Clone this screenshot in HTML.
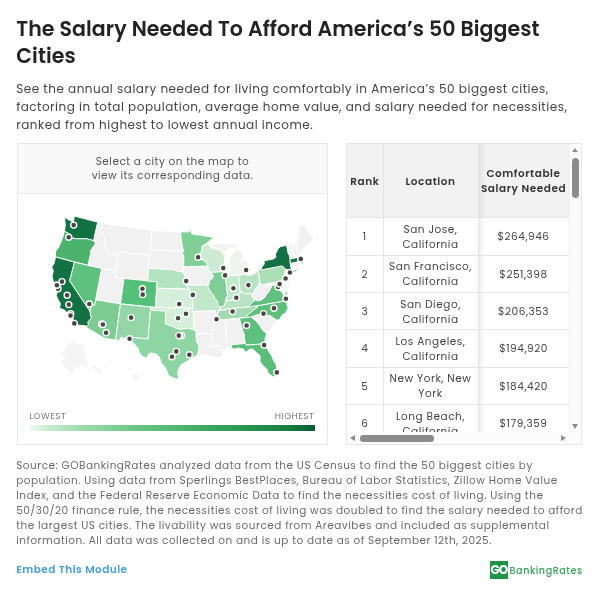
<!DOCTYPE html>
<html><head><meta charset="utf-8">
<style>
*{margin:0;padding:0;box-sizing:border-box}
html,body{width:600px;height:591px;background:#fff;overflow:hidden}
body{font-family:"Poppins","Liberation Sans",sans-serif;position:relative;color:#333}
.abs{position:absolute;white-space:nowrap}
h1{position:absolute;left:16.3px;top:14.8px;font-size:20.5px;line-height:27.3px;font-weight:600;color:#222;letter-spacing:0.08px;white-space:nowrap}
.desc{left:16.2px;top:79.5px;font-size:12px;line-height:18.1px;color:#444;letter-spacing:0.505px}
.mapbox{position:absolute;left:17px;top:143px;width:311px;height:302px;border:1px solid #e8e8e8;background:#fff}
.maphead{position:absolute;left:0;top:0;width:309px;height:50px;background:#f9f9f9;border-bottom:1px solid #e8e8e8}
.mh{position:absolute;left:0;width:309px;text-align:center;font-size:10.5px;line-height:14.5px;color:#555;white-space:nowrap;letter-spacing:0.48px}
.map{position:absolute;left:-1px;top:49px}
.lg{position:absolute;font-size:9px;line-height:12px;color:#7c7c7c;top:265.9px;letter-spacing:0.45px}
.bar{position:absolute;left:12px;top:281px;width:284.5px;height:6px;background:linear-gradient(90deg,#f1f8f2 0%,#c5e9cd 7%,#98d9a8 20%,#6fc889 35%,#52b872 50%,#36a45e 65%,#238f4c 80%,#167a40 92%,#0c5c33 100%)}
.tbl{position:absolute;left:346px;top:143px;width:236px;height:302px;border:1px solid #e6e6e6;background:#fff;overflow:hidden}
.th{position:absolute;left:0;top:0;width:222px;height:73.5px;background:#f2f2f2}
.vl{position:absolute;top:0;width:1px;height:288px;background:#e3e3e3}
.hl{position:absolute;left:0;width:222px;height:1px;background:#e6e6e6}
.ht{position:absolute;font-size:10.5px;font-weight:600;color:#333;line-height:15px;text-align:center;white-space:nowrap;letter-spacing:0.55px}
.c{position:absolute;font-size:10.5px;color:#444;line-height:15px;text-align:center;white-space:nowrap;letter-spacing:0.53px}
.c1{left:0;width:35.5px}.c2{left:35.5px;width:96px}.c3{left:131px;width:91px}
.shadow{position:absolute;left:130.5px;top:0;width:8px;height:288px;background:linear-gradient(90deg,rgba(0,0,0,.07),rgba(0,0,0,0))}
.vs{position:absolute;left:222px;top:0;width:12px;height:288px;background:#fbfbfb;border-left:1px solid #f0f0f0}
.hs{position:absolute;left:0;top:288px;width:234px;height:12px;background:#fcfcfc}
.thumbv{position:absolute;left:225px;top:13.7px;width:7px;height:40px;border-radius:3.5px;background:#8c8c8c}
.thumbh{position:absolute;left:13px;top:291px;width:74px;height:6.5px;border-radius:3.2px;background:#8c8c8c}
.tri{position:absolute;width:0;height:0}
.src{left:16.2px;top:457.8px;font-size:10.5px;line-height:15px;color:#6a6a6a;letter-spacing:0.49px}
.embed{left:16.3px;top:561.65px;font-size:10.5px;font-weight:600;color:#449ed7;letter-spacing:0.45px;line-height:15.75px}
.logo{position:absolute;left:490px;top:561px;width:18px;height:18px;background:#1f9447;color:#fff;font-size:12px;font-weight:700;line-height:18.5px;text-align:left;padding-left:0.6px;letter-spacing:-1.1px;overflow:visible;white-space:nowrap}
.logot{left:509.5px;top:563.5px;font-size:9.6px;color:#35a057;font-weight:500;letter-spacing:0.55px}
</style></head><body>
<h1>The Salary Needed To Afford America’s 50 Biggest<br>Cities</h1>
<div class="abs desc">See the annual salary needed for living comfortably in America’s 50 biggest cities,<br>factoring in total population, average home value, and salary needed for necessities,<br>ranked from highest to lowest annual income.</div>
<div class="mapbox">
<div class="maphead"><div class="mh" style="top:10.9px">Select a city on the map to</div><div class="mh" style="top:25.3px">view its corresponding data.</div></div>
<svg class="map" width="310" height="250" viewBox="0 0 310 250"><g stroke="#fff" stroke-width=".9" stroke-linejoin="round"><path d="M66.6,152.0L70.6,172.3L72.9,172.5L75.1,174.3L76.8,171.9L80.0,174.5L85.7,178.2L84.6,180.7L82.5,180.2L79.7,177.6L77.2,175.5L72.0,173.4L67.5,173.5L64.6,172.6L63.1,174.1L59.9,176.1L59.2,172.7L57.6,176.6L56.5,178.8L53.4,181.4L50.9,183.1L47.7,183.9L43.0,185.5L46.3,184.4L49.0,182.9L52.3,179.8L53.0,177.0L49.5,177.2L47.6,174.3L45.1,172.3L44.4,170.0L45.3,167.6L46.0,166.4L49.8,164.2L49.9,163.1L45.1,163.1L43.7,160.5L47.2,159.1L48.4,160.2L49.5,160.1L47.8,158.1L46.6,155.0L48.8,153.8L51.1,151.2L54.5,149.3L58.0,150.4L61.0,151.3L64.1,151.4Z" fill="#f5f5f5" stroke="none"/><path d="M115.9,179.9L120.7,181.7L122.5,184.2L117.7,188.1L115.3,184.3Z" fill="#f5f5f5" stroke="none"/><path d="M111.1,174.8L115.2,175.4L115.2,177.3L112.3,177.3Z" fill="#f5f5f5" stroke="none"/><path d="M101.5,171.0L105.1,172.9L102.7,172.9Z" fill="#f5f5f5" stroke="none"/><path d="M92.6,167.2L95.6,167.2L94.4,169.1Z" fill="#f5f5f5" stroke="none"/><path d="M48.4,24.4L51.3,26.6L54.8,28.3L56.1,30.0L57.4,23.1L80.8,29.2L77.2,45.0L77.1,47.7L68.3,45.6L66.8,45.7L61.3,45.8L58.1,45.6L54.7,44.7L51.3,43.4L51.7,40.5L50.1,39.7L47.3,38.2L48.1,34.2L48.4,31.6L47.7,26.8Z" fill="#137244"/><path d="M47.3,38.2L50.1,39.7L51.7,40.5L51.3,43.4L54.7,44.7L58.1,45.6L61.3,45.8L66.8,45.7L68.3,45.6L77.1,47.7L78.5,50.6L77.0,52.9L74.8,56.3L73.5,58.0L74.1,60.7L73.4,61.9L71.1,72.5L38.5,63.9L38.6,58.3L41.4,54.7L44.1,48.9L46.2,42.9Z" fill="#4bb36b"/><path d="M38.5,63.9L57.5,69.2L52.7,87.8L73.3,118.8L73.5,123.4L75.0,123.9L72.3,127.8L70.9,128.8L71.5,131.5L70.0,133.1L57.3,131.6L57.1,129.1L56.8,127.1L54.8,124.0L53.0,122.6L52.4,120.6L49.0,119.0L47.4,116.9L43.2,115.5L42.7,114.4L43.4,110.6L41.0,106.6L39.1,102.1L40.4,99.2L39.7,98.0L38.2,95.9L38.8,92.0L36.8,90.1L35.1,83.6L36.3,77.9L34.7,74.1L37.2,70.2Z" fill="#137244"/><path d="M57.5,69.2L84.8,75.4L77.8,111.9L74.1,112.3L73.3,118.8L52.7,87.8Z" fill="#5ec27e"/><path d="M80.8,29.2L84.9,30.0L83.5,36.3L84.4,39.6L85.7,41.5L88.0,45.8L88.6,46.9L87.1,52.4L89.5,56.8L90.8,58.0L93.3,61.0L95.6,60.8L99.2,61.4L101.1,62.0L98.6,77.8L71.1,72.5L71.1,72.5L73.4,61.9L74.1,60.7L73.5,58.0L74.8,56.3L77.0,52.9L78.5,50.6L77.1,47.7L77.2,45.0Z" fill="#f1f1f1"/><path d="M84.9,30.0L134.9,37.5L132.8,62.7L101.6,58.9L101.1,62.0L99.2,61.4L95.6,60.8L93.3,61.0L90.8,58.0L89.5,56.8L87.1,52.4L88.6,46.9L88.0,45.8L85.7,41.5L84.4,39.6L83.5,36.3L84.9,30.0Z" fill="#f1f1f1"/><path d="M101.6,58.9L132.8,62.7L130.6,88.1L97.6,84.1Z" fill="#f1f1f1"/><path d="M84.8,75.4L98.6,77.8L97.6,84.1L107.0,85.5L103.5,110.9L78.7,106.8Z" fill="#f1f1f1"/><path d="M107.0,85.5L140.1,88.8L138.5,114.4L103.5,110.9Z" fill="#55c079"/><path d="M78.7,106.8L103.5,110.9L98.5,146.9L87.7,145.3L69.2,134.3L70.0,133.1L71.5,131.5L70.9,128.8L72.3,127.8L75.0,123.9L73.5,123.4L73.3,118.8L74.1,112.3L77.8,111.9Z" fill="#7ccc93"/><path d="M103.5,110.9L133.7,114.1L133.5,117.3L131.1,146.0L112.0,144.3L112.3,145.7L103.4,144.6L103.0,147.5L98.5,146.9Z" fill="#95d6a8"/><path d="M134.9,37.5L163.7,38.9L164.1,45.2L165.1,51.5L166.4,58.2L133.3,56.7Z" fill="#f1f1f1"/><path d="M133.3,56.7L166.4,58.2L165.1,60.4L166.8,62.3L166.8,73.8L166.1,77.0L166.8,80.2L164.2,78.4L159.6,78.3L157.3,76.8L131.7,75.4Z" fill="#f1f1f1"/><path d="M131.7,75.4L157.3,76.8L159.6,78.3L164.2,78.4L166.8,80.2L168.4,84.6L169.3,87.8L169.6,92.3L172.2,96.2L139.7,95.2L140.1,88.8L130.6,88.1Z" fill="#b3e3c0"/><path d="M139.7,95.2L172.2,96.2L173.9,98.7L175.7,101.9L175.8,115.4L138.5,114.5Z" fill="#d5efdb"/><path d="M133.7,114.1L175.8,115.4L176.9,125.6L176.8,136.9L171.5,135.4L166.2,135.9L163.1,136.3L158.9,135.2L155.8,133.6L150.6,131.7L148.1,130.6L148.6,118.2L133.5,117.3Z" fill="#d5efdb"/><path d="M133.5,117.3L148.6,118.2L148.1,130.6L150.6,131.7L155.8,133.6L158.9,135.2L163.1,136.3L166.2,135.9L171.5,135.4L176.8,136.9L179.2,137.4L179.2,140.9L179.4,147.4L180.7,150.5L182.3,153.6L181.4,158.1L180.8,161.9L176.0,164.3L173.8,165.9L168.8,169.1L164.4,171.6L162.1,174.7L160.9,177.9L160.8,182.3L162.2,185.8L160.2,186.1L156.2,185.0L151.1,182.1L149.0,175.7L144.7,170.4L142.3,163.9L139.1,160.8L133.9,160.0L131.9,160.8L129.4,165.1L127.2,164.2L124.6,162.8L121.9,158.7L121.3,155.5L116.9,150.5L112.3,145.7L112.0,144.3L131.1,146.0Z" fill="#8dd5a2"/><path d="M163.7,38.9L172.4,38.9L172.4,36.5L173.9,37.0L174.8,40.8L178.2,41.6L183.3,42.1L190.2,43.4L196.7,44.3L192.2,48.3L185.9,52.8L185.0,53.4L185.2,57.5L182.8,60.2L183.6,64.0L183.3,65.6L186.9,67.3L190.3,70.7L190.8,73.2L166.8,73.8L166.8,62.3L165.1,60.4L166.4,58.2L165.1,51.5L164.1,45.2Z" fill="#80cf97"/><path d="M166.8,73.8L190.8,73.2L191.5,76.4L193.8,79.5L196.0,81.9L196.3,83.8L194.8,85.8L192.5,87.9L192.2,91.1L190.8,93.2L189.4,91.9L169.9,92.5L169.6,92.3L169.3,87.8L168.4,84.6L166.8,80.2L166.1,77.0Z" fill="#f1f1f1"/><path d="M169.9,92.5L189.4,91.9L190.8,93.2L193.0,97.5L194.7,100.6L197.2,102.7L197.4,104.9L200.6,108.6L201.4,112.4L203.2,114.2L203.2,116.8L201.7,117.5L200.8,120.8L197.5,121.0L198.4,117.7L175.8,118.6L175.8,115.4L175.7,101.9L173.9,98.7L172.2,96.2Z" fill="#c2e8cb"/><path d="M175.8,118.6L198.4,117.7L197.5,121.0L200.8,120.8L200.0,122.8L199.2,126.7L198.2,127.4L196.9,131.3L195.0,135.2L194.5,140.4L179.2,140.9L179.2,137.4L176.8,136.9L176.9,125.6Z" fill="#f1f1f1"/><path d="M179.2,140.9L194.5,140.4L194.4,143.6L195.6,146.7L192.6,151.3L192.6,153.3L202.9,152.7L203.8,155.8L204.5,157.7L204.0,158.4L205.7,159.5L205.3,162.1L207.7,163.8L204.3,163.4L201.1,164.9L196.6,164.5L192.1,162.8L188.2,162.7L183.7,161.4L180.8,161.9L181.4,158.1L182.3,153.6L180.7,150.5L179.4,147.4Z" fill="#f1f1f1"/><path d="M190.8,73.2L190.3,70.7L186.9,67.3L183.3,65.6L183.6,64.0L182.8,60.2L185.2,57.5L185.0,53.4L190.6,51.6L193.4,53.5L194.8,55.2L199.3,56.1L203.8,57.0L205.4,60.1L206.4,61.9L209.0,60.4L207.6,65.0L207.5,68.9L206.5,73.4L207.0,78.5L193.8,79.5L191.5,76.4Z" fill="#cdebd3"/><path d="M207.0,78.5L193.8,79.5L196.0,81.9L196.3,83.8L194.8,85.8L192.5,87.9L192.2,91.1L190.8,93.2L193.0,97.5L194.7,100.6L197.2,102.7L197.4,104.9L200.6,108.6L201.4,112.4L203.2,114.2L206.4,113.3L208.2,110.6L208.6,108.6L208.8,106.0L210.5,102.6L210.0,98.5L208.6,83.1L208.2,82.3Z" fill="#80cd96"/><path d="M208.6,83.1L212.1,82.8L221.5,82.2L223.3,98.7L222.7,100.7L220.8,101.6L218.8,106.3L215.9,107.3L213.5,107.5L210.5,107.8L208.8,106.0L210.5,102.6L210.0,98.5Z" fill="#c3e8cb"/><path d="M221.5,82.2L227.7,81.2L231.5,82.5L236.1,81.5L241.1,77.6L242.5,86.1L242.5,88.3L241.7,92.3L238.3,96.1L236.5,100.2L234.7,101.5L232.5,100.2L229.1,100.9L225.9,99.1L223.3,98.7Z" fill="#b6e3c1"/><path d="M212.1,82.8L221.5,82.2L227.7,81.2L229.1,79.3L229.3,77.3L231.4,75.1L231.5,72.5L230.5,68.8L229.7,66.3L227.8,66.2L224.1,69.6L226.2,64.8L225.7,60.4L220.7,56.6L218.8,56.2L217.8,58.8L215.7,60.4L213.0,64.5L212.2,69.7L214.2,75.9L213.2,79.9Z" fill="#eff2ef"/><path d="M193.4,53.5L199.3,50.4L205.4,50.5L212.5,51.1L216.8,50.3L218.8,52.0L220.9,51.4L222.2,54.5L218.8,55.8L215.1,54.7L210.9,57.0L208.7,57.9L206.4,61.9L205.4,60.1L203.8,57.0L199.3,56.1L194.8,55.2Z" fill="#f3f5f3"/><path d="M201.7,117.5L203.2,116.8L203.2,114.2L206.4,113.3L208.2,110.6L208.6,108.6L210.5,107.8L213.5,107.5L215.9,107.3L218.8,106.3L220.8,101.6L222.7,100.7L223.3,98.7L225.9,99.1L229.1,100.9L232.5,100.2L234.7,101.5L234.9,103.1L236.8,106.0L238.6,106.8L236.2,108.7L234.0,111.0L230.9,114.0L224.3,114.6L219.3,115.1L208.8,115.8L208.9,116.9L201.7,117.5Z" fill="#b9e4c3"/><path d="M201.7,117.5L208.9,116.9L208.8,115.8L219.3,115.1L224.3,114.6L230.9,114.0L240.9,112.6L240.1,114.6L236.9,117.0L232.7,120.2L230.4,122.4L229.0,124.5L222.4,125.3L209.0,126.6L198.2,127.4L199.2,126.7L200.0,122.8L200.8,120.8Z" fill="#a6dab3"/><path d="M209.0,126.6L198.2,127.4L196.9,131.3L195.0,135.2L194.5,140.4L194.4,143.6L195.6,146.7L192.6,151.3L192.6,153.3L202.9,152.7L203.8,155.8L204.5,157.7L210.4,156.0L209.2,146.5Z" fill="#f1f1f1"/><path d="M209.0,126.6L222.4,125.3L226.1,138.6L227.5,142.1L227.3,145.3L228.4,150.4L214.4,151.8L215.3,156.2L212.6,156.4L211.9,154.6L210.4,156.0L209.2,146.5Z" fill="#f1f1f1"/><path d="M222.4,125.3L229.0,124.5L235.2,123.7L235.4,125.0L238.9,127.7L242.8,132.3L246.2,137.6L249.7,140.7L248.4,144.4L247.8,149.7L245.0,151.4L243.9,151.1L229.4,152.2L228.4,150.4L227.3,145.3L227.5,142.1L226.1,138.6Z" fill="#5ec07e"/><path d="M214.4,151.8L228.4,150.4L229.4,152.2L243.9,151.1L245.0,151.4L247.8,149.7L249.3,153.9L251.7,158.7L254.7,162.7L255.7,165.8L259.0,171.6L259.8,174.7L260.2,179.1L259.2,183.1L256.3,183.9L255.0,183.1L251.0,179.9L249.9,176.3L247.3,174.1L244.5,170.7L242.9,167.7L243.2,163.8L242.0,161.4L239.6,159.9L236.3,156.4L232.9,155.9L229.4,158.9L227.1,158.2L226.9,156.3L221.8,155.0L215.3,156.2Z" fill="#5cbd7b"/><path d="M235.2,123.7L239.1,121.9L245.5,121.2L247.1,123.2L252.8,122.3L259.7,127.2L257.1,131.9L254.0,135.7L251.2,138.1L249.7,140.7L246.2,137.6L242.8,132.3L238.9,127.7L235.4,125.0Z" fill="#f1f1f1"/><path d="M229.0,124.5L235.2,123.7L239.1,121.9L245.5,121.2L247.1,123.2L252.8,122.3L259.7,127.2L263.0,126.3L264.4,122.7L266.7,121.0L269.1,119.5L269.7,117.4L271.1,115.5L270.2,112.4L269.7,107.6L240.9,112.6L240.1,114.6L236.9,117.0L232.7,120.2L230.4,122.4Z" fill="#5fc07e"/><path d="M230.9,114.0L240.9,112.6L269.7,107.6L268.7,105.5L267.1,105.2L266.5,102.1L264.1,98.0L261.9,97.1L261.0,95.3L261.0,94.0L258.5,92.5L257.4,92.1L254.4,92.0L253.9,94.7L252.5,97.6L250.9,99.9L248.8,102.2L247.2,105.0L244.0,106.9L241.6,107.9L238.6,106.8L236.2,108.7L234.0,111.0Z" fill="#62c180"/><path d="M269.0,98.6L270.9,97.6L269.9,101.3L268.7,104.2L268.0,101.1Z" fill="#62c180"/><path d="M242.5,86.1L243.5,91.9L248.4,91.0L249.0,94.3L251.0,92.3L254.1,90.5L256.6,90.6L257.4,92.1L254.4,92.0L253.9,94.7L252.5,97.6L250.9,99.9L248.8,102.2L247.2,105.0L244.0,106.9L241.6,107.9L238.6,106.8L236.8,106.0L234.9,103.1L234.7,101.5L236.5,100.2L238.3,96.1L241.7,92.3L242.5,88.3Z" fill="#f1f1f1"/><path d="M248.4,91.0L266.0,87.6L267.7,95.6L271.2,94.8L270.9,97.6L269.0,98.6L266.9,97.0L265.7,98.6L264.3,95.3L264.0,97.3L261.9,97.1L261.0,95.3L261.0,94.0L258.5,92.5L257.4,92.1L256.6,90.6L254.1,90.5L251.0,92.3L249.0,94.3Z" fill="#e8f5eb"/><path d="M266.0,87.6L266.7,86.7L267.7,86.7L267.3,88.1L267.5,89.4L269.3,91.9L271.2,94.8L267.7,95.6Z" fill="#f5f5f5"/><path d="M243.5,91.9L241.1,77.5L244.3,75.2L244.6,76.9L264.9,72.9L266.3,73.9L268.8,76.3L267.6,79.8L267.5,81.5L269.5,83.7L270.3,84.0L268.9,85.4L267.7,86.7L266.7,86.7L266.0,87.6Z" fill="#a9deb6"/><path d="M268.8,76.3L273.0,77.6L273.0,79.6L272.1,81.1L273.3,81.1L273.8,84.0L273.3,87.4L271.0,91.7L267.8,89.3L267.3,88.1L268.9,85.4L270.3,84.0L269.5,83.7L267.5,81.5L267.6,79.8Z" fill="#f5f5f5"/><path d="M244.6,76.9L244.3,75.2L247.5,70.5L246.5,68.4L251.1,66.9L255.7,66.3L259.0,64.3L258.4,61.2L261.3,55.4L263.6,53.6L269.5,52.2L270.3,55.3L271.4,60.9L272.1,61.0L273.2,66.0L273.3,70.6L274.4,75.3L274.1,77.3L273.3,78.8L273.0,79.6L273.0,77.6L268.8,76.3L266.3,73.9L264.9,72.9Z" fill="#137244"/><path d="M273.1,80.2L277.7,78.8L281.9,76.1L282.3,75.2L279.6,76.5L275.1,78.3Z" fill="#137244"/><path d="M269.5,52.2L277.5,50.1L276.3,54.4L275.8,59.8L277.0,65.2L273.2,66.0L272.1,61.0L271.4,60.9L270.3,55.3Z" fill="#f4f4f4"/><path d="M277.5,50.1L278.9,47.8L280.5,52.6L281.8,56.9L284.2,60.9L284.1,62.4L282.2,64.1L277.0,65.2L275.8,59.8L276.3,54.4Z" fill="#f4f4f4"/><path d="M278.9,47.8L280.0,48.0L281.2,43.2L281.1,38.0L283.0,32.5L287.5,31.8L289.7,33.0L292.2,41.3L293.9,41.5L297.1,45.1L294.4,48.6L290.5,51.1L287.0,55.5L285.6,57.2L284.2,60.9L281.8,56.9L280.5,52.6Z" fill="#f1f1f1"/><path d="M273.3,70.6L273.2,66.0L277.0,65.2L282.2,64.1L284.1,62.4L285.5,63.8L284.2,66.2L286.1,68.0L285.8,70.4L285.1,71.2L284.4,70.4L282.9,68.4L281.0,68.9Z" fill="#137244"/><path d="M281.0,68.9L282.9,68.4L284.4,70.4L285.1,71.2L283.8,71.9L281.9,73.3Z" fill="#f5f5f5"/><path d="M273.3,70.6L281.0,68.9L281.9,73.3L279.0,74.3L276.8,75.4L274.1,77.3L274.4,75.3Z" fill="#f5f5f5"/></g><g fill="#4a4446" stroke="#fff" stroke-width="1.4"><circle cx="272.9" cy="79.5" r="3"/><circle cx="53.7" cy="120.8" r="3"/><circle cx="208.1" cy="82.4" r="3"/><circle cx="172.3" cy="161.7" r="3"/><circle cx="84.6" cy="131.0" r="3"/><circle cx="268.6" cy="85.5" r="3"/><circle cx="155.0" cy="163.7" r="3"/><circle cx="57.3" cy="130.4" r="3"/><circle cx="164.6" cy="142.4" r="3"/><circle cx="247.1" cy="152.1" r="3"/><circle cx="159.3" cy="158.4" r="3"/><circle cx="41.0" cy="95.7" r="3"/><circle cx="231.4" cy="92.1" r="3"/><circle cx="246.5" cy="120.6" r="3"/><circle cx="216.4" cy="95.2" r="3"/><circle cx="39.2" cy="92.3" r="3"/><circle cx="56.7" cy="32.1" r="3"/><circle cx="125.4" cy="95.8" r="3"/><circle cx="161.1" cy="125.2" r="3"/><circle cx="215.6" cy="118.5" r="3"/><circle cx="261.1" cy="93.9" r="3"/><circle cx="112.6" cy="145.8" r="3"/><circle cx="72.3" cy="111.0" r="3"/><circle cx="283.8" cy="65.9" r="3"/><circle cx="229.1" cy="77.1" r="3"/><circle cx="51.7" cy="44.3" r="3"/><circle cx="219.3" cy="104.7" r="3"/><circle cx="199.5" cy="126.3" r="3"/><circle cx="262.6" cy="91.1" r="3"/><circle cx="206.2" cy="75.1" r="3"/><circle cx="114.1" cy="124.6" r="3"/><circle cx="89.1" cy="139.7" r="3"/><circle cx="50.1" cy="102.2" r="3"/><circle cx="45.0" cy="88.6" r="3"/><circle cx="85.9" cy="131.5" r="3"/><circle cx="229.6" cy="132.5" r="3"/><circle cx="175.8" cy="101.9" r="3"/><circle cx="125.7" cy="101.6" r="3"/><circle cx="169.2" cy="88.1" r="3"/><circle cx="257.0" cy="115.2" r="3"/><circle cx="259.8" cy="179.4" r="3"/><circle cx="268.9" cy="105.8" r="3"/><circle cx="53.5" cy="122.6" r="3"/><circle cx="39.9" cy="92.3" r="3"/><circle cx="181.1" cy="64.2" r="3"/><circle cx="51.8" cy="111.6" r="3"/><circle cx="168.9" cy="120.8" r="3"/><circle cx="162.2" cy="111.0" r="3"/><circle cx="163.0" cy="142.7" r="3"/><circle cx="161.8" cy="142.6" r="3"/></g></svg>
<div class="lg" style="left:11.2px">LOWEST</div>
<div class="lg" style="right:12.6px">HIGHEST</div>
<div class="bar"></div>
</div>
<div class="tbl">
<div class="th"></div>
<div class="shadow"></div>
<div class="vl" style="left:35.5px"></div>
<div class="vl" style="left:130.5px"></div>
<div class="hl" style="top:73px"></div>
<div class="hl" style="top:110.8px"></div>
<div class="hl" style="top:148px"></div>
<div class="hl" style="top:185.2px"></div>
<div class="hl" style="top:222.7px"></div>
<div class="hl" style="top:260px"></div>
<div class="ht c1" style="top:29.8px">Rank</div>
<div class="ht c2" style="top:29.8px">Location</div>
<div class="ht c3" style="top:22.2px">Comfortable<br>Salary Needed</div>
<div class="c c1" style="top:85.0px">1</div><div class="c c2" style="top:77.5px">San Jose,<br>California</div><div class="c c3" style="top:85.0px">$264,946</div>
<div class="c c1" style="top:122.8px">2</div><div class="c c2" style="top:115.3px">San Francisco,<br>California</div><div class="c c3" style="top:122.8px">$251,398</div>
<div class="c c1" style="top:160.0px">3</div><div class="c c2" style="top:152.5px">San Diego,<br>California</div><div class="c c3" style="top:160.0px">$206,353</div>
<div class="c c1" style="top:197.2px">4</div><div class="c c2" style="top:189.7px">Los Angeles,<br>California</div><div class="c c3" style="top:197.2px">$194,920</div>
<div class="c c1" style="top:234.7px">5</div><div class="c c2" style="top:227.2px">New York, New<br>York</div><div class="c c3" style="top:234.7px">$184,420</div>
<div class="c c1" style="top:272.0px">6</div><div class="c c2" style="top:264.5px">Long Beach,<br>California</div><div class="c c3" style="top:272.0px">$179,359</div>
<div class="vs"></div>
<div class="hs"></div>
<div class="thumbv"></div>
<div class="thumbh"></div>
<div class="tri" style="left:225px;top:4px;border-left:3.5px solid transparent;border-right:3.5px solid transparent;border-bottom:4.5px solid #8c8c8c"></div>
<div class="tri" style="left:225px;top:280px;border-left:3.5px solid transparent;border-right:3.5px solid transparent;border-top:5px solid #8c8c8c"></div>
<div class="tri" style="left:3px;top:291px;border-top:3.2px solid transparent;border-bottom:3.2px solid transparent;border-right:5px solid #8c8c8c"></div>
<div class="tri" style="left:214px;top:291px;border-top:3.2px solid transparent;border-bottom:3.2px solid transparent;border-left:5px solid #8c8c8c"></div>
</div>
<div class="abs src">Source: GOBankingRates analyzed data from the US Census to find the 50 biggest cities by<br>population. Using data from Sperlings BestPlaces, Bureau of Labor Statistics, Zillow Home Value<br>Index, and the Federal Reserve Economic Data to find the necessities cost of living. Using the<br>50/30/20 finance rule, the necessities cost of living was doubled to find the salary needed to afford<br>the largest US cities. The livability was sourced from Areavibes and included as supplemental<br>information. All data was collected on and is up to date as of September 12th, 2025.</div>
<div class="abs embed">Embed This Module</div>
<div class="logo">GO</div>
<div class="abs logot">BankingRates</div>
</body></html>
